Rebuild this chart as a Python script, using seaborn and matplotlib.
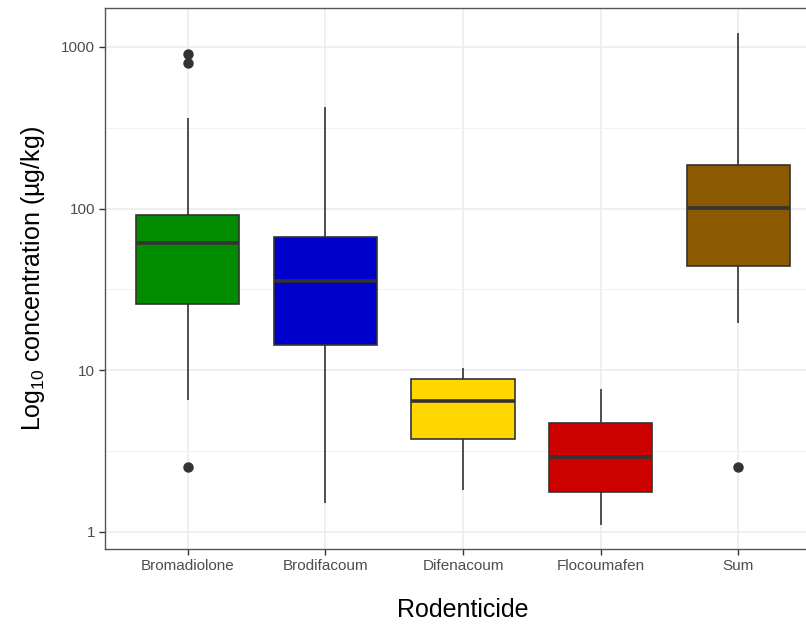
import numpy as np
import pandas as pd
import matplotlib
matplotlib.use("Agg")
import matplotlib.pyplot as plt
import matplotlib.ticker as mticker
import seaborn as sns

# ---- data (µg/kg) ----
categories = ["Bromadiolone", "Brodifacoum", "Difenacoum", "Flocoumafen", "Sum"]
whisker_low = [6.5, 1.5, 1.8, 1.1, 19.7]
q1 = [25.5, 14.4, 3.76, 1.77, 44.3]
median = [61.0, 35.8, 6.43, 2.9, 101.0]
q3 = [91.4, 67.0, 8.8, 4.72, 187.0]
whisker_high = [363.0, 424.0, 10.3, 7.6, 1220.0]
outliers = [[2.5, 800.0, 900.0], [], [], [], [2.5]]
colors = ["#008B00", "#0000CD", "#FFD700", "#CD0000", "#8B5A00"]

# Build samples whose box statistics reproduce the read values
rows = []
for i, cat in enumerate(categories):
    vals = list(outliers[i]) + [whisker_low[i], whisker_high[i]] \
        + [q1[i]] * 5 + [median[i]] * 5 + [q3[i]] * 5
    for v in vals:
        rows.append({"Rodenticide": cat, "conc": v})
df = pd.DataFrame(rows)

sns.set_theme(style="white")
plt.rcParams["font.family"] = ["Liberation Sans", "DejaVu Sans"]
plt.rcParams["mathtext.fontset"] = "custom"
plt.rcParams["mathtext.rm"] = "Liberation Sans"
plt.rcParams["mathtext.it"] = "Liberation Sans:italic"

fig = plt.figure(figsize=(8.06, 6.25), dpi=100)
ax = fig.add_axes([105 / 806, (625 - 549) / 625, 716 / 806, 541 / 625])

edge = "#333333"
sns.boxplot(
    data=df, x="Rodenticide", y="conc", hue="Rodenticide",
    order=categories, hue_order=categories, palette=colors, saturation=1,
    log_scale=True, width=0.75, gap=0, legend=False, ax=ax,
    linewidth=1.2, linecolor=edge, whis=1.5,
    medianprops=dict(color=edge, linewidth=2.6),
    whiskerprops=dict(color=edge, linewidth=1.2),
    capprops=dict(linewidth=0),
    flierprops=dict(marker="o", markersize=6.5, markerfacecolor=edge,
                    markeredgecolor=edge),
    zorder=3,
)

ax.set_xlim(-0.6, 4.6)
ax.set_ylim(10 ** -0.107, 10 ** 3.241)
ax.yaxis.set_major_locator(mticker.FixedLocator([1, 10, 100, 1000]))
ax.yaxis.set_major_formatter(mticker.FixedFormatter(["1", "10", "100", "1000"]))
ax.yaxis.set_minor_locator(mticker.FixedLocator([10 ** 0.5, 10 ** 1.5, 10 ** 2.5]))
ax.yaxis.set_minor_formatter(mticker.NullFormatter())

ax.grid(True, which="major", axis="both", color="#EBEBEB", linewidth=1.1, zorder=0)
ax.grid(True, which="minor", axis="y", color="#F2F2F2", linewidth=0.8, zorder=0)
ax.set_axisbelow(True)

for s in ["left", "bottom", "top", "right"]:
    ax.spines[s].set_color("#555555")
    ax.spines[s].set_linewidth(1.0)
ax.spines["right"].set_visible(False)

ax.tick_params(axis="both", which="major", length=4, width=1.0, color="#333333",
               labelsize=11, labelcolor="#4D4D4D", pad=3,
               left=True, bottom=True)
ax.tick_params(axis="y", which="minor", length=0)

ax.set_xlabel("Rodenticide", fontsize=18, color="black", labelpad=18)
ax.set_ylabel("Log$_{10}$ concentration (µg/kg)", fontsize=18, color="black",
              labelpad=10)

fig.savefig("out.png", dpi=100)
